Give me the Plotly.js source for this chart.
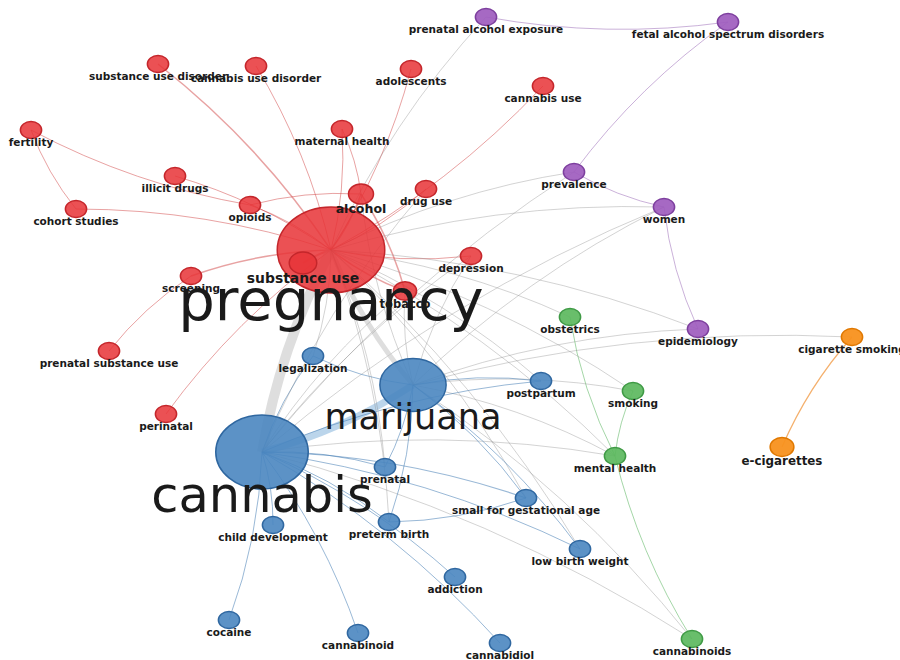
<!DOCTYPE html>
<html>
<head>
<meta charset="utf-8">
<script src="https://cdn.plot.ly/plotly-3.0.1.min.js"></script>
<style>html,body{margin:0;padding:0;background:#fff;}#chart{width:900px;height:660px;}</style>
</head>
<body>
<div id="chart"></div>
<script>
// ---- DATA (network map coordinates) ----
const nodeNames = [
  "pregnancy","substance use","substance use disorder","cannabis use disorder","adolescents","cannabis use",
  "fertility","maternal health","illicit drugs","cohort studies","opioids","alcohol","drug use","depression",
  "tobacco","screening","prenatal substance use","perinatal",
  "prenatal alcohol exposure","fetal alcohol spectrum disorders","prevalence","women","epidemiology",
  "obstetrics","smoking","mental health","cannabinoids",
  "cigarette smoking","e-cigarettes",
  "cannabis","marijuana","legalization","postpartum","prenatal","small for gestational age","child development",
  "preterm birth","low birth weight","addiction","cocaine","cannabinoid","cannabidiol"
];
const nodeX = [
  331,303,158,256,411,543,
  31,342,175,76,250,361,426,471,
  405,191,109,166,
  486,728,574,664,698,
  570,633,615,692,
  852,782,
  262,413,313,541,385,526,273,
  389,580,455,229,358,500
];
const nodeY = [
  250,263,64,66,69,86,
  130,129,176,209,205,194,189,256,
  291,276,351,414,
  17,22,172,207,329,
  317,391,456,639,
  337,447,
  452,385,356,381,467,498,525,
  522,549,577,620,633,643
];
// node weight = vertical diameter on the map
const nodeSize = [
  86,22,17,17,17,17,
  17,17,17,17,17,20,17,17,
  18.5,17,17,17,
  17,17,17,17,17,
  17,17,17,17,
  17,19,
  74,53,17,17,17,17,17,
  17,17,17,17,17,17
];
const nodeCluster = [
  1,1,1,1,1,1,
  1,1,1,1,1,1,1,1,
  1,1,1,1,
  4,4,4,4,4,
  3,3,3,3,
  5,5,
  2,2,2,2,2,2,2,
  2,2,2,2,2,2
];
const edgeSource = [
  "pregnancy","pregnancy","pregnancy","pregnancy","alcohol","pregnancy","pregnancy","pregnancy","pregnancy",
  "pregnancy","pregnancy","pregnancy","pregnancy","pregnancy","pregnancy","pregnancy","fertility","fertility",
  "screening","tobacco","alcohol",
  "prenatal alcohol exposure","fetal alcohol spectrum disorders","prevalence","women","prenatal alcohol exposure",
  "prevalence","prevalence","women","women","women","epidemiology","epidemiology",
  "obstetrics","smoking","mental health","obstetrics","smoking","smoking","mental health","mental health",
  "mental health","cannabinoids","cannabinoids",
  "cigarette smoking","cigarette smoking",
  "pregnancy","pregnancy","cannabis","legalization","legalization","legalization","postpartum","postpartum",
  "postpartum","prenatal","prenatal","prenatal","small for gestational age","small for gestational age",
  "small for gestational age","preterm birth","preterm birth","preterm birth","preterm birth","low birth weight",
  "low birth weight","low birth weight","child development","addiction","cocaine","cannabinoid","cannabidiol",
  "depression","depression","tobacco","tobacco","drug use","alcohol"
];
const edgeTarget = [
  "substance use disorder","cannabis use disorder","adolescents","maternal health","maternal health","cannabis use",
  "illicit drugs","opioids","cohort studies","screening","alcohol","drug use","depression","tobacco","substance use",
  "perinatal","opioids","cohort studies",
  "prenatal substance use","alcohol","opioids",
  "fetal alcohol spectrum disorders","prevalence","women","epidemiology","pregnancy",
  "pregnancy","cannabis","pregnancy","cannabis","marijuana","pregnancy","marijuana",
  "mental health","mental health","cannabinoids","pregnancy","pregnancy","marijuana","cannabis","pregnancy",
  "marijuana","cannabis","marijuana",
  "e-cigarettes","marijuana",
  "cannabis","marijuana","marijuana","cannabis","marijuana","pregnancy","cannabis","marijuana",
  "pregnancy","cannabis","marijuana","pregnancy","cannabis","marijuana",
  "pregnancy","cannabis","marijuana","small for gestational age","pregnancy","cannabis",
  "marijuana","pregnancy","cannabis","cannabis","cannabis","cannabis","cannabis",
  "cannabis","marijuana","marijuana","cannabis","cannabis","marijuana"
];
const edgeWeight = [
  1.5,1,1,1,1,1,1,1,1,
  1.5,1.5,1,1,1.5,2,1,1,1,
  1,1.5,1,
  1,1,1,1,1,
  1,1,1,1,1,1,1,
  1,1,1,1,1,1,1,1,
  1,1,1,
  1.2,1,
  10,5,7,1,1,1,1,1,
  1,1,1,1,1.2,1,
  1,1,1,1,1,1,
  1,1,1,1,1,1,1,
  1,1,1,1,1,1
];

// ---- STYLES ----
const clusterFill = {1:"rgba(232,52,56,0.86)",2:"rgba(74,134,192,0.9)",3:"rgba(92,184,94,0.92)",4:"rgba(158,92,190,0.92)",5:"rgba(248,145,30,0.95)"};
const clusterLine = {1:"#c4262b",2:"#2f67a0",3:"#3f9a45",4:"#7d3f9e",5:"#e07800"};
const clusterEdge = {1:"rgba(210,70,70,0.5)",2:"rgba(70,125,180,0.55)",3:"rgba(90,180,95,0.55)",4:"rgba(150,100,180,0.5)",5:"rgba(240,150,60,0.75)"};
const stretch = 1.25;   // the map is drawn wider than tall

const idx = {};
nodeNames.forEach((n,i)=>idx[n]=i);

const shapes = [];
for (let k=0;k<edgeSource.length;k++){
  const a = idx[edgeSource[k]], b = idx[edgeTarget[k]];
  const x0=nodeX[a], y0=nodeY[a], x1=nodeX[b], y1=nodeY[b];
  const dx=x1-x0, dy=y1-y0, c=0.08;
  const cx=(x0+x1)/2 - dy*c, cy=(y0+y1)/2 + dx*c;
  const w = edgeWeight[k];
  let col;
  if (w>=7 && nodeCluster[a]===nodeCluster[b]) col="rgba(150,190,225,0.65)";
  else if (w>=5) col="rgba(200,200,200,0.6)";
  else if (nodeCluster[a]===nodeCluster[b]) col=clusterEdge[nodeCluster[a]];
  else col="rgba(140,140,140,0.38)";
  shapes.push({type:"path", xref:"x", yref:"y", layer:"below",
    path:`M ${x0},${y0} Q ${cx},${cy} ${x1},${y1}`, line:{color:col, width:w}});
}
// nodes as ellipses, in cluster order so small red nodes sit on top of pregnancy
[2,1,4,3,5].forEach(cl=>{
  nodeNames.forEach((_,i)=>{
    if (nodeCluster[i]!==cl) return;
    const ry=nodeSize[i]/2, rx=ry*stretch;
    shapes.push({type:"circle", xref:"x", yref:"y", layer:"below",
      x0:nodeX[i]-rx, x1:nodeX[i]+rx, y0:nodeY[i]-ry, y1:nodeY[i]+ry,
      fillcolor:clusterFill[cl], line:{color:clusterLine[cl], width:1.5}});
  });
});

const fontOf = s => 10.5 + 0.684*(s-17);
const small = [], big = [];
nodeNames.forEach((_,i)=>{ (fontOf(nodeSize[i])<20 ? small : big).push(i); });
const labelTrace = (ids, weight) => ({
  type:"scatter", mode:"text", hoverinfo:"skip",
  x: ids.map(i=>nodeX[i]),
  y: ids.map(i=>{const f=fontOf(nodeSize[i]); return nodeY[i] + nodeSize[i]/2 + 0.15*f + 3.5;}),
  text: ids.map(i=>nodeNames[i]),
  textposition:"middle center",
  textfont:{family:"DejaVu Sans, Verdana, sans-serif", size: ids.map(i=>fontOf(nodeSize[i])), color:"#1a1a1a", weight: weight}
});
const traces = [labelTrace(small, 700), labelTrace(big, 400)];

const layout = {
  width:900, height:660, margin:{l:0,r:0,t:0,b:0},
  paper_bgcolor:"#fff", plot_bgcolor:"#fff", showlegend:false,
  xaxis:{range:[0,900], visible:false, fixedrange:true},
  yaxis:{range:[660,0], visible:false, fixedrange:true},
  shapes: shapes
};
Plotly.newPlot("chart", traces, layout, {staticPlot:true, displayModeBar:false});
</script>
</body>
</html>
